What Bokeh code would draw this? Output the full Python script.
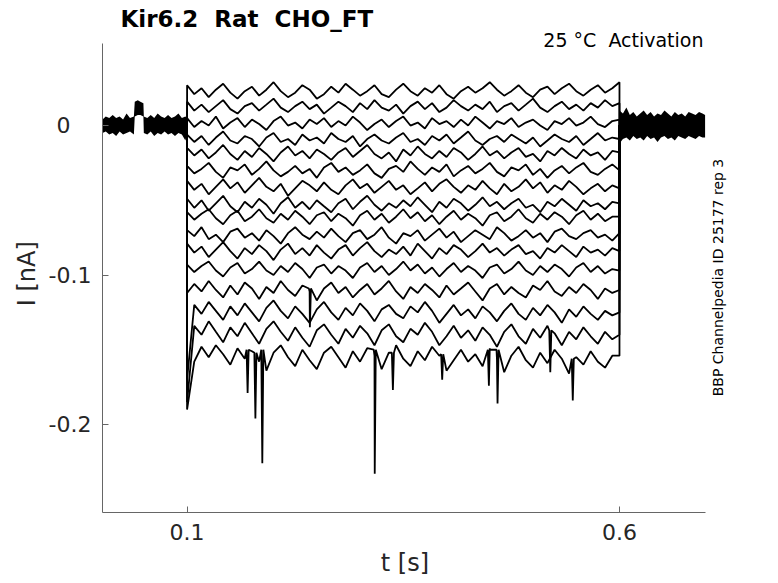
import math
from bokeh.plotting import figure
from bokeh.models import Range1d, FixedTicker, Label
from bokeh.embed import file_html
from bokeh.resources import INLINE

# ---------------- data ----------------
x_ticks = [0.1, 0.6]
x_tick_labels = ["0.1", "0.6"]
y_ticks = [-0.2, -0.1, 0.0]
y_tick_labels = ["-0.2", "-0.1", "0\u00a0\u00a0\u00a0"]

# sample times during the voltage step (s)
t_step = [0.1, 0.1083, 0.1167, 0.125, 0.1333, 0.1417, 0.15, 0.1583, 0.1667, 0.175,
          0.1833, 0.1917, 0.2, 0.2083, 0.2167, 0.225, 0.2333, 0.2417, 0.25, 0.2583,
          0.2667, 0.275, 0.2833, 0.2917, 0.3, 0.3083, 0.3167, 0.325, 0.3333, 0.3417,
          0.35, 0.3583, 0.3667, 0.375, 0.3833, 0.3917, 0.4, 0.4083, 0.4167, 0.425,
          0.4333, 0.4417, 0.45, 0.4583, 0.4667, 0.475, 0.4833, 0.4917, 0.5, 0.5083,
          0.5167, 0.525, 0.5333, 0.5417, 0.55, 0.5583, 0.5667, 0.575, 0.5833, 0.5917, 0.6]

# current traces during the step (pA), one per sweep
i01 = [27, 21, 25, 19, 24, 28, 22, 18, 23, 26, 20, 24, 29, 23, 19, 22, 27, 24, 18, 21,
       26, 22, 28, 24, 20, 23, 27, 21, 19, 24, 28, 23, 20, 25, 22, 27, 21, 18, 23, 26,
       22, 25, 29, 24, 20, 23, 27, 22, 19, 24, 26, 21, 25, 28, 23, 20, 24, 27, 22, 25, 29]
i02 = [16, 10, 14, 9, 13, 17, 11, 8, 13, 15, 10, 14, 18, 12, 9, 13, 16, 11, 14, 8,
       12, 16, 13, 9, 15, 11, 17, 12, 10, 14, 8, 13, 16, 11, 15, 9, 12, 17, 13, 10,
       14, 11, 16, 9, 13, 15, 10, 14, 18, 12, 9, 13, 16, 11, 14, 10, 15, 12, 17, 13, 15]
i03 = [5, -1, 3, 0, 6, -2, 2, 5, -1, 4, 1, -3, 3, 6, 0, 2, -2, 4, 1, 5,
       -1, 3, 0, 6, 2, -3, 1, 4, -1, 3, 6, 0, 2, -2, 5, 1, 3, -1, 4, 0,
       6, 2, -2, 3, 1, 5, -1, 2, 4, 0, -3, 3, 1, 5, 0, 2, 6, 1, -1, 3, 4]
i04 = [-6, -11, -7, -13, -8, -4, -10, -12, -7, -9, -14, -8, -5, -11, -9, -13, -6, -10, -8, -12,
       -5, -9, -11, -7, -14, -9, -6, -10, -12, -8, -5, -11, -9, -13, -7, -10, -6, -12, -8, -4,
       -10, -13, -9, -7, -11, -6, -9, -12, -8, -14, -10, -6, -9, -11, -7, -13, -9, -5, -10, -8, -9]
i05 = [-15, -20, -16, -22, -18, -13, -19, -23, -17, -21, -15, -19, -24, -18, -14, -20, -17, -22, -16, -19,
       -23, -18, -15, -21, -17, -13, -19, -22, -18, -24, -16, -20, -14, -19, -22, -17, -21, -15, -18, -23,
       -19, -14, -20, -17, -22, -18, -15, -21, -19, -24, -17, -20, -15, -19, -22, -16, -20, -18, -23, -17, -18]
i06 = [-27, -32, -29, -25, -31, -35, -28, -30, -26, -33, -29, -24, -30, -34, -31, -27, -32, -29, -35, -28,
       -25, -31, -28, -33, -30, -26, -32, -35, -29, -27, -31, -24, -29, -33, -28, -31, -26, -34, -30, -27,
       -32, -29, -25, -31, -34, -28, -30, -26, -33, -29, -35, -30, -27, -32, -28, -25, -31, -33, -29, -26, -30]
i07 = [-37, -43, -39, -46, -41, -36, -42, -38, -45, -40, -35, -41, -44, -39, -47, -42, -37, -40, -44, -38,
       -43, -46, -40, -36, -42, -39, -45, -41, -37, -43, -40, -46, -42, -38, -44, -39, -36, -41, -45, -40,
       -43, -37, -42, -46, -39, -44, -41, -36, -42, -38, -45, -40, -43, -37, -41, -46, -42, -39, -44, -40, -42]
i08 = [-49, -55, -50, -57, -52, -47, -54, -58, -51, -55, -49, -53, -59, -52, -48, -55, -51, -56, -50, -54,
       -58, -52, -49, -56, -51, -47, -53, -57, -52, -55, -50, -54, -48, -53, -58, -51, -55, -49, -52, -57,
       -53, -48, -54, -51, -56, -52, -49, -55, -53, -58, -51, -54, -49, -53, -57, -50, -54, -52, -56, -51, -52]
i09 = [-58, -63, -59, -56, -62, -66, -60, -57, -64, -61, -56, -62, -65, -59, -63, -57, -61, -66, -60, -58,
       -64, -59, -62, -67, -60, -57, -63, -59, -65, -61, -56, -62, -58, -64, -60, -66, -61, -57, -63, -59,
       -62, -67, -60, -58, -64, -61, -56, -62, -65, -59, -63, -58, -61, -66, -60, -57, -63, -59, -64, -61, -61]
i10 = [-70, -74, -68, -76, -73, -78, -71, -69, -75, -72, -77, -70, -74, -79, -72, -68, -73, -76, -71, -75,
       -69, -74, -78, -72, -70, -76, -73, -68, -75, -79, -72, -74, -70, -77, -73, -69, -75, -71, -78, -74,
       -70, -73, -76, -68, -72, -77, -74, -70, -75, -72, -78, -71, -69, -74, -76, -72, -70, -75, -73, -77, -72]
i11 = [-79, -85, -81, -88, -83, -78, -84, -89, -82, -86, -80, -84, -90, -83, -79, -86, -82, -87, -80, -85,
       -89, -83, -80, -87, -82, -78, -84, -88, -83, -86, -81, -87, -79, -84, -89, -82, -86, -80, -83, -88,
       -84, -79, -85, -82, -87, -83, -80, -86, -84, -89, -82, -85, -80, -84, -88, -81, -85, -83, -87, -82, -84]
i12 = [-93, -98, -94, -91, -97, -101, -95, -92, -99, -96, -91, -97, -100, -94, -98, -92, -96, -102, -95, -93,
       -99, -94, -97, -102, -95, -92, -98, -94, -100, -96, -91, -97, -93, -99, -95, -101, -96, -92, -98, -94,
       -97, -102, -95, -93, -99, -96, -91, -97, -100, -94, -98, -93, -96, -101, -95, -92, -98, -94, -99, -96, -97]
i13 = [-112, -106, -111, -104, -110, -115, -107, -113, -105, -109, -116, -108, -112, -104, -110, -114, -107, -111, -117, -109,
       -105, -112, -108, -115, -110, -106, -113, -109, -104, -111, -116, -108, -112, -106, -110, -115, -107, -113, -109, -105,
       -111, -117, -109, -106, -113, -108, -112, -115, -107, -110, -104, -111, -114, -108, -112, -106, -110, -116, -109, -112, -110]
i14 = [-170, -120, -126, -118, -124, -130, -121, -127, -119, -125, -131, -122, -117, -124, -129, -121, -126, -132, -123, -118,
       -125, -130, -122, -127, -119, -124, -131, -123, -120, -126, -129, -121, -125, -118, -124, -132, -126, -120, -127, -123,
       -129, -121, -125, -131, -124, -119, -126, -130, -122, -127, -120, -125, -132, -123, -128, -121, -126, -130, -124, -127, -125]
i15 = [-185, -134, -140, -131, -138, -145, -135, -141, -132, -139, -146, -136, -131, -138, -144, -135, -142, -148, -137, -133,
       -140, -146, -136, -142, -134, -139, -147, -137, -133, -141, -145, -136, -140, -132, -138, -147, -141, -134, -142, -137,
       -144, -135, -140, -148, -138, -133, -141, -146, -136, -142, -134, -139, -147, -138, -143, -135, -141, -146, -138, -143, -140]
i16 = [-190, -158, -148, -155, -147, -153, -160, -149, -156, -151, -158, -164, -152, -147, -155, -161, -150, -157, -163, -152,
       -148, -155, -162, -151, -158, -149, -154, -163, -152, -147, -156, -161, -151, -157, -148, -154, -164, -157, -150, -158,
       -153, -161, -149, -156, -165, -154, -148, -157, -162, -152, -159, -150, -156, -166, -155, -160, -151, -158, -162, -154, -154]
traces = [i01, i02, i03, i04, i05, i06, i07, i08, i09, i10, i11, i12, i13, i14, i15, i16]

# brief downward events: sweep index, time (s), local level (pA), minimum (pA)
spike_trace = [15, 15, 15, 15, 15, 15, 15, 15, 15, 14, 12]
spike_t     = [0.170, 0.179, 0.187, 0.317, 0.338, 0.395, 0.449, 0.459, 0.546, 0.520, 0.242]
spike_base  = [-150, -152, -150, -150, -152, -153, -150, -150, -156, -137, -109]
spike_low   = [-179, -196, -226, -233, -177, -170, -174, -186, -184, -165, -135]

# holding-current noise envelope before and after the step (pA)
t_pre  = [0.0022, 0.006, 0.010, 0.014, 0.018, 0.022, 0.026, 0.030, 0.034, 0.0385, 0.0395, 0.043, 0.046, 0.0495,
          0.0500, 0.054, 0.058, 0.062, 0.066, 0.070, 0.074, 0.078, 0.082, 0.086, 0.090, 0.094, 0.098, 0.100]
pre_hi = [4, 6, 5, 7, 5, 6, 4, 8, 5, 6, 16, 17, 16, 15, 6, 5, 7, 5, 8, 6, 5, 7, 5, 6, 8, 5, 6, 5]
pre_lo = [-5, -4, -6, -5, -7, -4, -6, -5, -4, -6, 6, 7, 7, 6, -5, -6, -4, -7, -5, -6, -4, -6, -5, -7, -5, -6, -10, -6]
t_post  = [0.600, 0.604, 0.608, 0.612, 0.616, 0.620, 0.624, 0.628, 0.632, 0.636, 0.640, 0.644, 0.648,
           0.652, 0.656, 0.660, 0.664, 0.668, 0.672, 0.676, 0.680, 0.684, 0.688, 0.692, 0.696, 0.699]
post_hi = [10, 8, 12, 7, 9, 6, 8, 10, 7, 9, 6, 8, 7, 10, 8, 6, 9, 7, 8, 6, 9, 8, 7, 9, 8, 7]
post_lo = [-12, -9, -8, -10, -7, -9, -8, -10, -7, -9, -8, -11, -8, -7, -9, -8, -10, -7, -8, -9, -7, -8, -9, -7, -8, -8]

NB = "\u00a0"
title_text = "Kir6.2" + NB + " Rat" + NB + " CHO_FT"
cond_text = "25 \u00b0C" + NB + " Activation"
id_text = "BBP Channelpedia ID 25177 rep 3"
x_label = "t [s]" + NB * 5
y_label = "I [nA]" + NB * 4

# ---------------- build ----------------
FONT = "DejaVu Sans"
TXT = "#262626"
PA = 1000.0  # pA per nA

# data limits of the axes box
ax_x0, ax_x1 = 0.0022, 0.699
ax_y0, ax_y1 = -0.2589, 0.0549
# frame extends beyond the axes box so that the texts are drawn inside it
FL, FT, FW, FH = 102, 4, 643, 508
sx = 864.8      # px per s
sy = 1494.6     # px per nA
x_end = ax_x0 + FW / sx
y_top = ax_y1 + (43 - FT) / sy

p = figure(frame_width=FW, frame_height=FH,
           x_range=Range1d(ax_x0, x_end), y_range=Range1d(ax_y0, y_top),
           output_backend="svg", toolbar_location=None,
           min_border_left=FL, min_border_right=28,
           min_border_top=FT, min_border_bottom=66,
           background_fill_color="white", border_fill_color="white")
p.outline_line_color = None
p.grid.visible = False

xs, ys = [], []
for k, tr in enumerate(traces):
    pts = [(t, v / PA) for t, v in zip(t_step, tr)]
    for j, s in enumerate(spike_trace):
        if s == k:
            pts += [(spike_t[j] - 0.0012, spike_base[j] / PA),
                    (spike_t[j], spike_low[j] / PA),
                    (spike_t[j] + 0.0012, spike_base[j] / PA)]
    pts.sort(key=lambda q: q[0])
    xs.append([0.1] + [q[0] for q in pts] + [0.6])
    ys.append([0.0] + [q[1] for q in pts] + [0.0])

p.varea(x=t_pre, y1=[v / PA for v in pre_lo], y2=[v / PA for v in pre_hi], color="black")
p.varea(x=t_post, y1=[v / PA for v in post_lo], y2=[v / PA for v in post_hi], color="black")
p.multi_line(xs=xs, ys=ys, line_color="black", line_width=1.8)

# axes
for ax in (p.xaxis[0], p.yaxis[0]):
    ax.axis_line_color = "#666666"
    ax.axis_line_width = 1
    ax.major_tick_line_color = "#666666"
    ax.major_tick_in = 6
    ax.major_tick_out = 0
    ax.minor_tick_in = 0
    ax.minor_tick_out = 0
    ax.major_label_text_font = FONT
    ax.major_label_text_font_size = "22px"
    ax.major_label_text_color = TXT
    ax.axis_label_text_font = FONT
    ax.axis_label_text_font_size = "24px"
    ax.axis_label_text_font_style = "normal"
    ax.axis_label_text_color = TXT

p.xaxis.bounds = (ax_x0, ax_x1)
p.xaxis.ticker = FixedTicker(ticks=x_ticks)
p.xaxis.major_label_overrides = dict(zip(x_ticks, x_tick_labels))
p.xaxis.axis_label = x_label
p.xaxis.major_label_standoff = 11
p.xaxis.axis_label_standoff = 6

p.yaxis.bounds = (ax_y0, ax_y1)
p.yaxis.ticker = FixedTicker(ticks=y_ticks)
p.yaxis.major_label_overrides = dict(zip(y_ticks, y_tick_labels))
p.yaxis.axis_label = y_label
p.yaxis.major_label_standoff = 11
p.yaxis.axis_label_standoff = 5

def dx(px):  # page px -> data x
    return ax_x0 + (px - FL) / sx
def dy(py):  # page py -> data y
    return y_top - (py - FT) / sy

p.add_layout(Label(x=dx(120), y=dy(19), text=title_text, text_font=FONT,
                   text_font_size="23px", text_font_style="bold", text_color="black",
                   text_align="left", text_baseline="alphabetic"))
p.add_layout(Label(x=dx(703), y=dy(40), text=cond_text, text_font=FONT,
                   text_font_size="19px", text_color="black",
                   text_align="right", text_baseline="alphabetic"))
p.add_layout(Label(x=dx(717), y=dy(277), text=id_text, text_font=FONT,
                   text_font_size="14px", text_color="black", angle=math.pi / 2,
                   text_align="center", text_baseline="middle"))

open("out.html", "w").write(file_html(p, INLINE))
